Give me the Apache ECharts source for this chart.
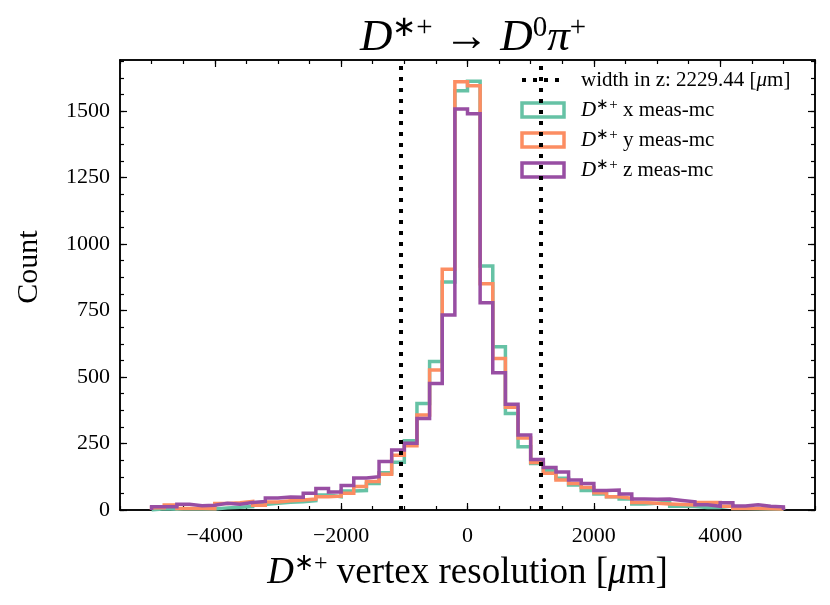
<!DOCTYPE html>
<html><head><meta charset="utf-8">
<script src="https://cdn.jsdelivr.net/npm/echarts@6/dist/echarts.min.js"></script>
<style>html,body{margin:0;padding:0;background:#fff}#c{width:830px;height:605px}</style>
</head><body><div id="c"></div>
<script>
// ---- data ----
const binStart = -5000;
const binWidth = 200;
const countsX = [5,3,5,4,4,8,10,13,21,25,29,31,35,56,50,71,73,100,140,180,260,400,558,857,1576,1612,917,614,363,238,175,148,119,94,73,60,50,41,23,25,30,14,13,9,9,16,6,5,4,3];
const countsY = [8,19,6,6,5,24,27,32,18,30,35,38,41,50,52,63,88,107,134,206,242,357,526,905,1610,1595,851,570,386,271,179,138,113,100,85,65,50,44,28,25,23,21,19,28,28,14,6,6,5,4];
const countsZ = [12,12,22,16,18,25,22,28,32,45,49,48,63,81,68,92,120,125,182,226,251,344,476,733,1508,1490,779,516,398,282,190,160,143,113,100,73,75,60,41,40,41,36,31,20,14,27,15,20,14,12];
const widthLines = [-1062, 1167];
const xTicks = [-4000, -2000, 0, 2000, 4000];
const yTicks = [0, 250, 500, 750, 1000, 1250, 1500];
const xRange = [-5500, 5500];
const yRange = [0, 1692];
const seriesNames = ['Dx', 'Dy', 'Dz'];
const legendLabels = {
  'width': 'width in z: 2229.44 [{i|μ}m]',
  'Dx': '{i|D}{s|∗+} x meas-mc',
  'Dy': '{i|D}{s|∗+} y meas-mc',
  'Dz': '{i|D}{s|∗+} z meas-mc'
};
const colors = ['#66c2a5', '#fc8d62', '#984ea3'];

// ---- build ----
function stepPoints(counts) {
  const pts = [[binStart, 0]];
  counts.forEach((c, i) => {
    const l = binStart + i * binWidth, r = l + binWidth;
    pts.push([l, c]); pts.push([r, c]);
  });
  pts.push([binStart + counts.length * binWidth, 0]);
  return pts;
}
function multiples(step, lo, hi) {
  const a = [];
  for (let v = Math.ceil(lo / step) * step; v <= hi + 1e-9; v += step) a.push(v);
  return a;
}
const xMinor = multiples(500, xRange[0], xRange[1]);
const yMinor = multiples(62.5, yRange[0], yRange[1]);
const FONT = 'Liberation Serif';
const fmt = v => (v < 0 ? '\u2212' + Math.abs(v) : String(v));

function xAx(pos, ticks, len, labels) {
  return {
    type: 'value', position: pos, min: xRange[0], max: xRange[1],
    axisLine: { show: true, onZero: false, lineStyle: { color: '#000', width: 1.5 } },
    axisTick: { show: true, inside: true, length: len, customValues: ticks, lineStyle: { color: '#000', width: 1.2 } },
    axisLabel: labels ? { show: true, customValues: ticks, formatter: fmt, margin: 15, color: '#000', fontFamily: FONT, fontSize: 22 } : { show: false },
    splitLine: { show: false }
  };
}
function yAx(pos, ticks, len, labels) {
  return {
    type: 'value', position: pos, min: yRange[0], max: yRange[1],
    axisLine: { show: true, onZero: false, lineStyle: { color: '#000', width: 1.5 } },
    axisTick: { show: true, inside: true, length: len, customValues: ticks, lineStyle: { color: '#000', width: 1.2 } },
    axisLabel: labels ? { show: true, customValues: ticks, formatter: fmt, margin: 10, color: '#000', fontFamily: FONT, fontSize: 22 } : { show: false },
    splitLine: { show: false }
  };
}
const xAxes = [xAx('bottom', xTicks, 7, true), xAx('bottom', xMinor, 4, false), xAx('top', xTicks, 7, false), xAx('top', xMinor, 4, false)];
const yAxes = [yAx('left', yTicks, 7, true), yAx('left', yMinor, 4, false), yAx('right', yTicks, 7, false), yAx('right', yMinor, 4, false)];
xAxes[0].name = '{i|D}{s|∗+} vertex resolution [{i|μ}m]';
xAxes[0].nameLocation = 'middle';
xAxes[0].nameGap = 42;
xAxes[0].nameTextStyle = { color: '#000', fontFamily: FONT, fontSize: 37, lineHeight: 42,
  rich: { i: { fontStyle: 'italic', fontFamily: FONT, fontSize: 37, lineHeight: 42 }, s: { fontFamily: FONT, fontSize: 24, lineHeight: 24, verticalAlign: 'top' } } };
yAxes[0].name = 'Count';
yAxes[0].nameLocation = 'middle';
yAxes[0].nameGap = 76;
yAxes[0].nameTextStyle = { color: '#000', fontFamily: FONT, fontSize: 30, padding: [0, 0, 0, 36] };

const rich = {
  i: { fontStyle: 'italic', fontFamily: FONT, fontSize: 21, lineHeight: 24, color: '#000' },
  s: { fontFamily: FONT, fontSize: 15, lineHeight: 15, verticalAlign: 'top', color: '#000' }
};

const series = seriesNames.map((n, k) => ({
  name: n, type: 'line', data: stepPoints([countsX, countsY, countsZ][k]),
  symbol: 'none', showSymbol: false, silent: true, z: 2 + k,
  lineStyle: { color: colors[k], width: 3.5, join: 'miter', cap: 'butt' },
  itemStyle: { color: colors[k] }
}));
series.unshift({
  name: 'width', type: 'line', data: [], symbol: 'none', z: 10,
  lineStyle: { color: '#000', width: 4, type: [4, 7] },
  itemStyle: { color: '#000' },
  markLine: {
    silent: true, symbol: 'none', animation: false,
    label: { show: false },
    lineStyle: { color: '#000', width: 4, type: [4, 7] },
    data: widthLines.map(v => ({ xAxis: v }))
  }
});

const option = {
  animation: false,
  backgroundColor: '#fff',
  title: {
    text: '{i|D}{s|∗+} → {i|D}{s|0}{i|π}{s|+}',
    left: 468, top: 9, textAlign: 'center',
    textStyle: { color: '#000', fontFamily: FONT, fontSize: 45, fontWeight: 'normal', lineHeight: 48,
      rich: { i: { fontStyle: 'italic', fontFamily: FONT, fontSize: 45, lineHeight: 48 }, s: { fontFamily: FONT, fontSize: 29, lineHeight: 29, verticalAlign: 'top' } } }
  },
  grid: { left: 120, top: 60, width: 695, height: 450, containLabel: false },
  legend: {
    left: 520, top: 68, padding: 0, orient: 'vertical', itemWidth: 42, itemHeight: 14, itemGap: 6,
    selectedMode: false,
    formatter: n => legendLabels[n],
    textStyle: { color: '#000', fontFamily: FONT, fontSize: 21, lineHeight: 24, padding: [0, 0, 0, 12], rich: rich },
    data: [
      { name: 'width', itemStyle: { opacity: 0 }, lineStyle: { color: '#000', width: 4, type: [4, 7] } },
      ...seriesNames.map((n, k) => ({ name: n, icon: 'rect', itemStyle: { color: 'rgba(0,0,0,0)', borderColor: colors[k], borderWidth: 3.5 } }))
    ]
  },
  xAxis: xAxes,
  yAxis: yAxes,
  series: series
};
const chart = echarts.init(document.getElementById('c'), null, { renderer: 'canvas' });
chart.setOption(option);
</script>
</body></html>
